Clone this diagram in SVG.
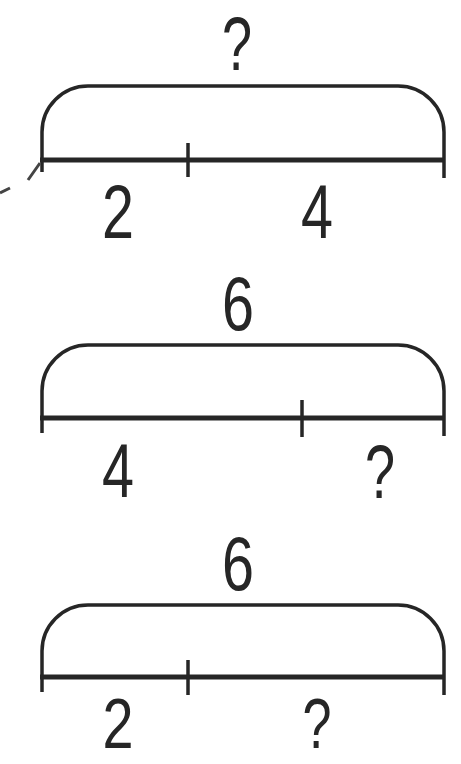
<svg xmlns="http://www.w3.org/2000/svg" width="461" height="764" viewBox="0 0 461 764">
<style>
.base{fill:none;stroke:#262626;stroke-width:5;stroke-linecap:butt}
.brace{fill:none;stroke:#262626;stroke-width:3.5}
.tick{stroke:#262626;stroke-width:3.5}
.lbl{font-family:"Liberation Sans",Arial,sans-serif;font-size:76px;fill:#262626;text-anchor:middle}
.sm{font-size:71px}
</style>
<rect width="461" height="764" fill="#ffffff"/>
<g id="diagram1">
<path class="brace" d="M42,160 L42,132 A46,46 0 0 1 88,86 L398,86 A46,46 0 0 1 444,132 L444,178"/>
<line class="base" x1="40" y1="160" x2="445" y2="160"/>
<line class="tick" x1="188" y1="143" x2="188" y2="177"/>
<line class="tick" x1="42" y1="160" x2="42" y2="172"/>
<text class="lbl" x="237" y="70" textLength="30" lengthAdjust="spacingAndGlyphs">?</text>
<text class="lbl" x="118" y="238" textLength="32" lengthAdjust="spacingAndGlyphs">2</text>
<text class="lbl" x="317" y="238" textLength="32" lengthAdjust="spacingAndGlyphs">4</text>
<path d="M40,163 L28,180 M10,188 L0,193" stroke="#444" stroke-width="3" fill="none"/>
</g>
<g id="diagram2">
<path class="brace" d="M42,418 L42,391 A46,46 0 0 1 88,345 L398,345 A46,46 0 0 1 444,391 L444,436"/>
<line class="base" x1="40" y1="418" x2="445" y2="418"/>
<line class="tick" x1="302" y1="400" x2="302" y2="437"/>
<line class="tick" x1="42" y1="418" x2="42" y2="433"/>
<text class="lbl" x="238" y="330" textLength="32" lengthAdjust="spacingAndGlyphs">6</text>
<text class="lbl" x="118" y="497" textLength="32" lengthAdjust="spacingAndGlyphs">4</text>
<text class="lbl" x="380" y="498" textLength="30" lengthAdjust="spacingAndGlyphs">?</text>
</g>
<g id="diagram3">
<path class="brace" d="M42,677 L42,651 A46,46 0 0 1 88,605 L398,605 A46,46 0 0 1 444,651 L444,695"/>
<line class="base" x1="40" y1="677" x2="445" y2="677"/>
<line class="tick" x1="188" y1="660" x2="188" y2="695"/>
<line class="tick" x1="42" y1="677" x2="42" y2="692"/>
<text class="lbl" x="238" y="590" textLength="32" lengthAdjust="spacingAndGlyphs">6</text>
<text class="lbl sm" x="118" y="748" textLength="31" lengthAdjust="spacingAndGlyphs">2</text>
<text class="lbl sm" x="317" y="748" textLength="29" lengthAdjust="spacingAndGlyphs">?</text>
</g>
</svg>
